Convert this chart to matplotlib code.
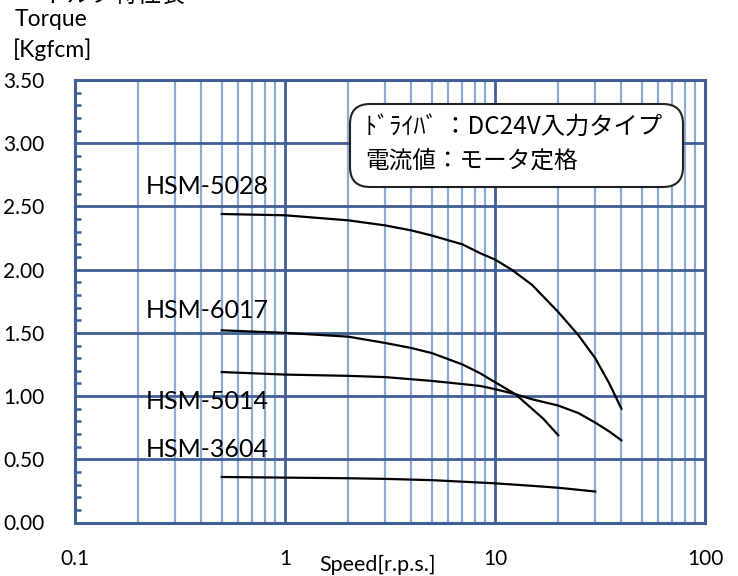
import matplotlib
matplotlib.use("Agg")
import matplotlib.pyplot as plt
import matplotlib.ticker as mtick
from matplotlib.patches import FancyBboxPatch

plt.rcParams['font.family'] = ['Lato', 'Noto Sans CJK JP', 'DejaVu Sans']

dark_blue = "#3f5f96"
light_blue = "#8eaadb"

# speed [r.p.s.] / torque [Kgfcm]
x_5028 = [0.5, 1, 2, 3, 4, 5, 7, 8.5, 10, 12, 15, 20, 25, 30, 35, 40]
y_5028 = [2.44, 2.43, 2.39, 2.35, 2.31, 2.27, 2.20, 2.13, 2.08, 2.00, 1.88, 1.665, 1.48, 1.30, 1.10, 0.90]
x_6017 = [0.5, 1, 2, 3, 4, 5, 7, 8.5, 10, 12.5, 15, 17, 20]
y_6017 = [1.52, 1.50, 1.47, 1.42, 1.38, 1.34, 1.25, 1.18, 1.11, 1.015, 0.90, 0.82, 0.69]
x_5014 = [0.5, 1, 2, 3, 5, 7, 8.5, 10, 12.5, 15, 20, 25, 30, 35, 40]
y_5014 = [1.19, 1.17, 1.16, 1.15, 1.12, 1.095, 1.08, 1.055, 1.015, 0.975, 0.925, 0.865, 0.79, 0.72, 0.65]
x_3604 = [0.5, 1, 2, 3, 5, 10, 15, 20, 30]
y_3604 = [0.36, 0.355, 0.35, 0.345, 0.335, 0.31, 0.29, 0.275, 0.245]

labels = ["HSM-5028", "HSM-6017", "HSM-5014", "HSM-3604"]
label_y = [2.60, 1.618, 0.894, 0.520]
label_x = 0.218

y_ticks = [0, 0.5, 1.0, 1.5, 2.0, 2.5, 3.0, 3.5]
x_ticks = [0.1, 1, 10, 100]
x_ticklabels = ["0.1", "1", "10", "100"]

fig = plt.figure(figsize=(7.38, 5.76), dpi=100)
ax = fig.add_axes([75 / 738, 53.5 / 576, 630 / 738, 442.5 / 576])

for xs, ys in [(x_5028, y_5028), (x_6017, y_6017), (x_5014, y_5014), (x_3604, y_3604)]:
    ax.plot(xs, ys, color="black", lw=1.6, zorder=3)

for name, ly in zip(labels, label_y):
    ax.text(label_x, ly, name, fontsize=18, va="baseline", ha="left", zorder=4)

ax.set_xscale("log")
ax.set_xlim(0.1, 100)
ax.set_ylim(0, 3.5)
ax.set_xticks(x_ticks)
ax.set_xticklabels(x_ticklabels)
ax.xaxis.set_minor_locator(mtick.LogLocator(base=10, subs=range(2, 10)))
ax.xaxis.set_minor_formatter(mtick.NullFormatter())
ax.set_yticks(y_ticks)
ax.yaxis.set_major_formatter(mtick.FormatStrFormatter("%.2f"))
ax.yaxis.set_minor_locator(mtick.MultipleLocator(0.1))

ax.set_axisbelow(True)
ax.grid(True, which="major", color=dark_blue, lw=2.0)
ax.grid(True, which="minor", axis="x", color=light_blue, lw=1.6)

ax.tick_params(axis="x", which="both", length=0, pad=19, labelsize=15)
ax.tick_params(axis="y", which="major", length=0, pad=22, labelsize=15)
ax.tick_params(axis="y", which="minor", direction="in", length=4, width=1.8, color=dark_blue)
for s in ax.spines.values():
    s.set_color(dark_blue)
    s.set_linewidth(2.2)

ax.set_xlabel("Speed[r.p.s.]", fontsize=15.5)
ax.xaxis.set_label_coords(0.481, -0.096)
ax.xaxis.label.set_va("center")

fig.text(15 / 738, 1 - 19 / 576, "Torque", fontsize=16.5, va="center", ha="left")
fig.text(13 / 738, 1 - 50 / 576, "[Kgfcm]", fontsize=16.5, va="center", ha="left")
# title sits mostly above the image edge, as in the source
fig.text(43 / 738, 1 - 2.5 / 576, "トルク特性表", fontsize=17, va="baseline", ha="left",
         family=["Noto Sans CJK JP"])

box = FancyBboxPatch((3.50, 5.76 - 1.87), 3.33, 0.83,
                     boxstyle="round,pad=0,rounding_size=0.2",
                     transform=fig.dpi_scale_trans, facecolor="white",
                     edgecolor="#222222", lw=1.5, zorder=5)
fig.patches.append(box)
fig.text(365 / 738, 1 - 128 / 576, "ﾄﾞﾗｲﾊﾞ ：DC24V入力タイプ", fontsize=17.5, va="center",
         ha="left", family=["Noto Sans CJK JP"], zorder=6)
fig.text(365 / 738, 1 - 162 / 576, "電流値：モータ定格", fontsize=17, va="center",
         ha="left", family=["Noto Sans CJK JP"], zorder=6)

fig.savefig("out.png", dpi=100)
